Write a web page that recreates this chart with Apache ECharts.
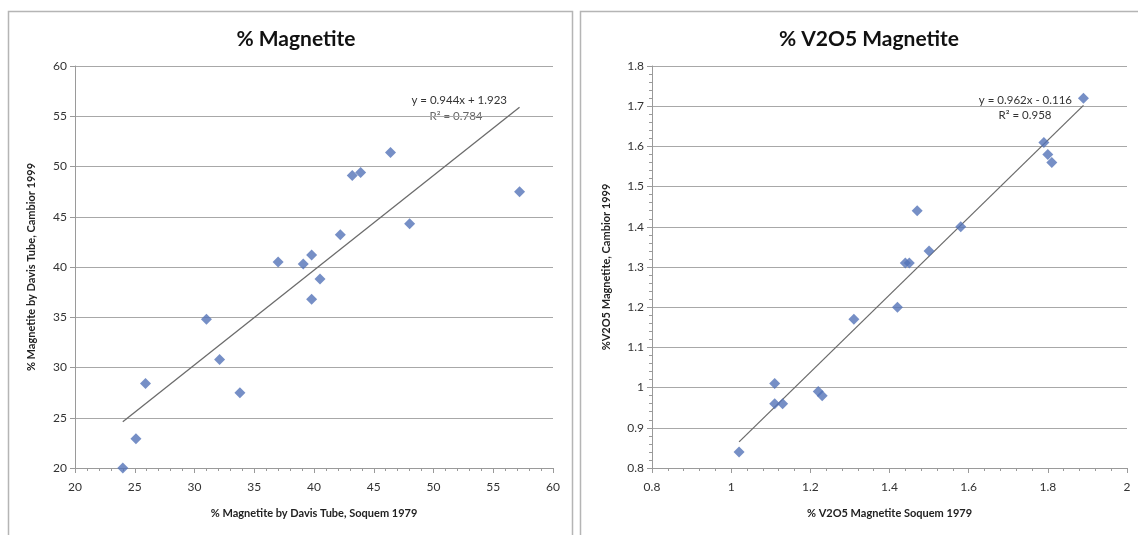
<!DOCTYPE html>
<html>
<head>
<meta charset="utf-8">
<script src="https://cdn.jsdelivr.net/npm/echarts@6/dist/echarts.min.js"></script>
<style>
html,body{margin:0;padding:0;background:#fff;}
#chart{width:1138px;height:535px;}
</style>
</head>
<body>
<div id="chart"></div>
<script>
// Left chart: % Magnetite
const magX = [24.0, 25.1, 25.9, 31.0, 32.1, 33.8, 37.0, 39.1, 39.8, 39.8, 40.5, 42.2, 43.2, 43.9, 46.4, 48.0, 57.2];
const magY = [20.0, 22.9, 28.4, 34.8, 30.8, 27.5, 40.5, 40.3, 41.2, 36.8, 38.8, 43.2, 49.1, 49.4, 51.4, 44.3, 47.5];
const magTrendX = [24.0, 57.2];
const magTrendY = [24.6, 55.9];

// Right chart: % V2O5 Magnetite
const vX = [1.02, 1.11, 1.11, 1.13, 1.22, 1.23, 1.31, 1.42, 1.44, 1.45, 1.47, 1.50, 1.58, 1.79, 1.80, 1.81, 1.89];
const vY = [0.84, 1.01, 0.96, 0.96, 0.99, 0.98, 1.17, 1.20, 1.31, 1.31, 1.44, 1.34, 1.40, 1.61, 1.58, 1.56, 1.72];
const vTrendX = [1.02, 1.89];
const vTrendY = [0.865, 1.702];

const titles = ['% Magnetite', '% V2O5 Magnetite'];
const xNames = ['% Magnetite by Davis Tube, Soquem 1979', '% V2O5 Magnetite Soquem 1979'];
const yNames = ['% Magnetite by Davis Tube, Cambior 1999', '%V2O5 Magnetite, Cambior 1999'];
const eqTexts = [['y = 0.944x + 1.923', 'R\u00B2 = 0.784'], ['y = 0.962x - 0.116', 'R\u00B2 = 0.958']];

const FONT = 'Lato, "Open Sans", sans-serif';
const pairs = (xs, ys) => xs.map((x, i) => [x, ys[i]]);

const axisLineStyle = {show: true, lineStyle: {color: '#9a9a9a', width: 1}};
const gridLine = {show: true, lineStyle: {color: '#a8a8a8', width: 1}};
const lbl = {color: '#333', fontFamily: FONT, fontSize: 12};
const nameStyle = {color: '#222', fontFamily: FONT, fontSize: 11, fontWeight: 'bold'};

function xAxis(gi, min, max, interval, fmt) {
  return {
    type: 'value', gridIndex: gi, min, max, interval,
    name: xNames[gi], nameLocation: 'middle', nameGap: 40, nameTextStyle: nameStyle,
    axisLine: Object.assign({onZero: false}, axisLineStyle),
    axisTick: {show: true, length: 5, inside: false, lineStyle: {color: '#9a9a9a'}},
    minorTick: {show: true, splitNumber: 5, length: 3, lineStyle: {color: '#9a9a9a'}},
    axisLabel: Object.assign({margin: 13, formatter: fmt}, lbl),
    splitLine: {show: false}
  };
}
function yAxis(gi, min, max, interval, gap, fmt, minor) {
  return {
    type: 'value', gridIndex: gi, min, max, interval,
    name: yNames[gi], nameLocation: 'middle', nameGap: gap, nameRotate: 90, nameTextStyle: nameStyle,
    axisLine: Object.assign({onZero: false}, axisLineStyle),
    axisTick: {show: true, length: 5, lineStyle: {color: '#9a9a9a'}},
    minorTick: {show: minor, splitNumber: 5, length: 3, lineStyle: {color: '#9a9a9a'}},
    axisLabel: Object.assign({margin: 8, formatter: fmt}, lbl),
    splitLine: gridLine
  };
}

const diamond = {type: 'scatter', symbol: 'diamond', symbolSize: 11, itemStyle: {color: '#5473b8'}, z: 3};
const trend = {type: 'line', symbol: 'none', lineStyle: {color: '#6b6b6b', width: 1.3}, z: 2, silent: true};

const option = {
  animation: false,
  backgroundColor: '#fff',
  textStyle: {fontFamily: FONT},
  title: [
    {text: titles[0], left: 291, top: 24, textAlign: 'center', textStyle: {fontFamily: FONT, fontSize: 21, fontWeight: 'bold', color: '#111'}},
    {text: titles[1], left: 864, top: 24, textAlign: 'center', textStyle: {fontFamily: FONT, fontSize: 21, fontWeight: 'bold', color: '#111'}}
  ],
  grid: [
    {left: 75, right: 585, top: 66, bottom: 67},
    {left: 652, right: 11, top: 66, bottom: 67}
  ],
  xAxis: [
    xAxis(0, 20, 60, 5),
    xAxis(1, 0.8, 2, 0.2, v => String(Math.round(v * 10) / 10))
  ],
  yAxis: [
    yAxis(0, 20, 60, 5, 38, undefined, false),
    yAxis(1, 0.8, 1.8, 0.1, 40, v => String(Math.round(v * 10) / 10), true)
  ],
  series: [
    Object.assign({}, trend, {xAxisIndex: 0, yAxisIndex: 0, data: pairs(magTrendX, magTrendY)}),
    Object.assign({}, diamond, {xAxisIndex: 0, yAxisIndex: 0, data: pairs(magX, magY)}),
    Object.assign({}, trend, {xAxisIndex: 1, yAxisIndex: 1, data: pairs(vTrendX, vTrendY)}),
    Object.assign({}, diamond, {xAxisIndex: 1, yAxisIndex: 1, data: pairs(vX, vY)})
  ],
  graphic: [
    {type: 'rect', shape: {x: 8.5, y: 11.5, width: 564, height: 540}, style: {fill: 'none', stroke: '#b5b5b5', lineWidth: 1.5}, silent: true},
    {type: 'rect', shape: {x: 580.5, y: 11.5, width: 570, height: 540}, style: {fill: 'none', stroke: '#b5b5b5', lineWidth: 1.5}, silent: true},
    {type: 'text', x: 507, y: 100, style: {text: eqTexts[0][0], align: 'right', verticalAlign: 'middle', fill: '#333', font: '11.5px ' + FONT}},
    {type: 'text', x: 456, y: 116, style: {text: eqTexts[0][1], align: 'center', verticalAlign: 'middle', fill: '#666', font: '11.5px ' + FONT}},
    {type: 'text', x: 1072, y: 100, style: {text: eqTexts[1][0], align: 'right', verticalAlign: 'middle', fill: '#333', font: '11.5px ' + FONT}},
    {type: 'text', x: 1025, y: 115, style: {text: eqTexts[1][1], align: 'center', verticalAlign: 'middle', fill: '#333', font: '11.5px ' + FONT}}
  ]
};

const chart = echarts.init(document.getElementById('chart'), null, {renderer: 'canvas'});
chart.setOption(option);
</script>
</body>
</html>
